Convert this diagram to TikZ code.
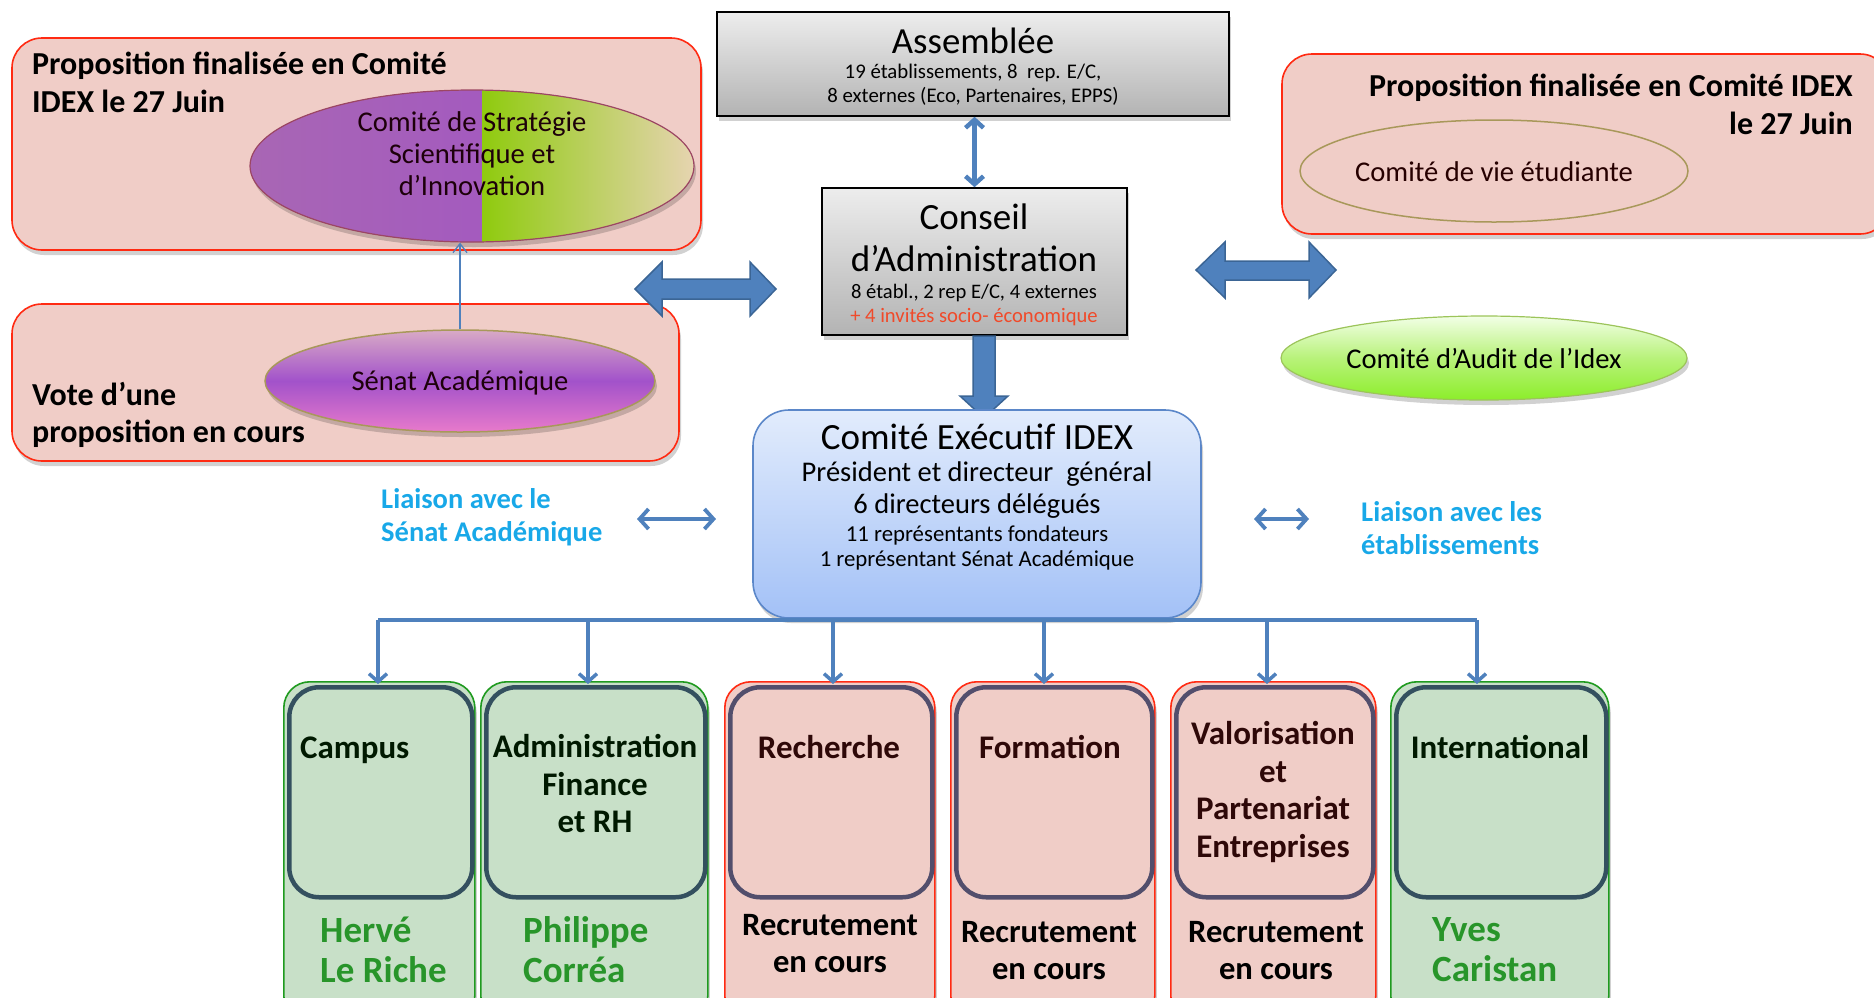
\documentclass[tikz,border=0pt]{standalone}
\usepackage{fontspec}
\setmainfont{Carlito}
\usetikzlibrary{shapes.geometric,arrows.meta,shadows,calc}
\definecolor{pinkbg}{HTML}{F0CDC7}
\definecolor{redline}{HTML}{FF2A12}
\definecolor{greenbg}{HTML}{C8E0C8}
\definecolor{greenline}{HTML}{1F9A1F}
\definecolor{navyline}{HTML}{34505F}
\definecolor{purpline}{HTML}{524E6C}
\definecolor{arrowblue}{HTML}{4F81BD}
\definecolor{arrowedge}{HTML}{3B6595}
\definecolor{namegreen}{HTML}{28952A}
\definecolor{liaisoncol}{HTML}{18A8E8}
\definecolor{socred}{HTML}{F04A2A}
\definecolor{titlebrown}{HTML}{2E0808}
\definecolor{grayTop}{HTML}{EDEDED}
\definecolor{grayBot}{HTML}{B3B3B3}
\definecolor{olive}{HTML}{A8985A}
\definecolor{cssiA}{HTML}{A866B4}
\definecolor{cssiB}{HTML}{A050C8}
\definecolor{cssiC}{HTML}{8FCB0E}
\definecolor{cssiD}{HTML}{E6D4B0}
\definecolor{senTop}{HTML}{D8AAC6}
\definecolor{senMid}{HTML}{A252CA}
\definecolor{senBot}{HTML}{E87ACB}
\definecolor{audTop}{HTML}{F2FFE6}
\definecolor{audMid}{HTML}{B8F27A}
\definecolor{audBot}{HTML}{8CEE2A}
\definecolor{audLine}{HTML}{9CC45A}
\definecolor{cexTop}{HTML}{E2ECFC}
\definecolor{cexBot}{HTML}{A3C1F7}
\definecolor{cexLine}{HTML}{5B87C9}
\newcommand{\myfs}[2]{\fontsize{#1}{#2}\selectfont}
\tikzset{
  softshadow/.style={drop shadow={shadow xshift=2pt,shadow yshift=-5pt,fill=black,opacity=0.18}},
  propbox/.style={draw=redline, line width=1.6, fill=pinkbg, rounded corners=30, softshadow},
  graybox/.style={draw=black, line width=1.6, top color=grayTop, bottom color=grayBot, softshadow},
  boldlabel/.style={font=\myfs{32}{38}\bfseries, inner sep=0},
  elltext/.style={font=\myfs{28.6}{32}, align=center, inner sep=0},
  ellbase/.style={ellipse, inner sep=0},
  blockarrow/.style={fill=arrowblue, draw=arrowedge, line width=1.5},
  thinconn/.style={draw=arrowblue, line width=1.3, -{Straight Barb[length=9,width=14]}},
  medconn/.style={draw=arrowblue, line width=4.5, {Straight Barb[length=8,width=18]}-{Straight Barb[length=8,width=18]}},
  liaisonconn/.style={draw=arrowblue, line width=3.8, {Straight Barb[length=9,width=20]}-{Straight Barb[length=9,width=20]}},
  treeline/.style={draw=arrowblue, line width=3.5},
  treearrow/.style={draw=arrowblue, line width=3.5, -{Straight Barb[length=8,width=18]}},
  gouter/.style={draw=greenline, line width=1.6, fill=greenbg, rounded corners=26, softshadow, anchor=north west, inner sep=0},
  pouter/.style={draw=redline, line width=1.6, fill=pinkbg, rounded corners=26, softshadow, anchor=north west, inner sep=0},
  ginner/.style={draw=navyline, line width=4.5, rounded corners=30, anchor=north west, inner sep=0},
  pinner/.style={draw=purpline, line width=4.5, rounded corners=30, anchor=north west, inner sep=0},
  gtitle/.style={font=\myfs{33}{37.5}\bfseries, text=black!90!green, align=center, inner sep=0},
  ptitle/.style={font=\myfs{33}{37.5}\bfseries, text=titlebrown, align=center, inner sep=0},
  namestyle/.style={font=\myfs{37}{40}\bfseries, text=namegreen, align=left, inner sep=0, anchor=west},
  recrut/.style={font=\myfs{32.6}{37}\bfseries, text=black, align=center, inner sep=0},
  liaison/.style={font=\myfs{28.5}{33}\bfseries, text=liaisoncol, align=left, inner sep=0, anchor=west},
}
\begin{document}
\begin{tikzpicture}[x=1pt,y=-1pt]
\useasboundingbox (0,0) rectangle (1874,997);

% ---------- left top group ----------
\node[propbox, minimum width=689, minimum height=212, inner sep=0] (propL) at (356.5,144) {};
\node[boldlabel, anchor=west, align=left] (propLtext) at (32,82) {Proposition finalisée en Comité\\IDEX le 27 Juin};
\node[ellbase, minimum width=444, minimum height=152, draw=purple!45!gray, line width=1.2, softshadow,
  path picture={
    \fill[left color=cssiA, right color=cssiB] (path picture bounding box.south west) rectangle ($(path picture bounding box.north)+(10,0)$);
    \fill[left color=cssiC, right color=cssiD] ($(path picture bounding box.south)+(10,0)$) rectangle (path picture bounding box.north east);
  }] (cssi) at (472,166) {};
\node[elltext, text=black!85!purple] (cssiText) at (472,154) {Comité de Stratégie\\Scientifique et\\d’Innovation};

\node[propbox, minimum width=667, minimum height=157, inner sep=0] (senBox) at (345.5,382.5) {};
\node[boldlabel, anchor=west, align=left, font=\myfs{32}{37}\bfseries] (senBoxText) at (32,415) {Vote d’une\\proposition en cours};
\node[ellbase, minimum width=390, minimum height=102, draw=olive, line width=1.5, top color=senTop, bottom color=senBot, middle color=senMid, softshadow] (senat) at (460,381) {};
\node[elltext, text=black!85!purple] (senatText) at (460,383) {Sénat Académique};
\draw[thinconn] (senat.north) -- (senat.north |- cssi.south);

% ---------- centre column ----------
\node[graybox, minimum width=512, minimum height=104, inner sep=0] (assemblee) at (973,64) {};
\node[font=\myfs{36.8}{40}, inner sep=0] (assTitle) at (973,41) {Assemblée};
\node[font=\myfs{20.8}{24}, align=center, inner sep=0] (assSub) at (973,85) {19 établissements, 8~ rep. E/C,\\8 externes (Eco, Partenaires, EPPS)};

\node[graybox, minimum width=305, minimum height=147, inner sep=0] (conseil) at (974.5,261.5) {};
\node[font=\myfs{37}{42}, align=center, inner sep=0] (conTitle) at (974,238) {Conseil\\d’Administration};
\node[font=\myfs{20.6}{24}, align=center, inner sep=0] (conSub) at (974,305) {8 établ., 2 rep E/C, 4 externes\\\textcolor{socred}{+ 4 invités socio- économique}};

\draw[medconn] (assemblee.south -| conseil.north) -- (conseil.north);

% block arrows
\draw[blockarrow] (635,289) -- (662,262) -- (662,279) -- (750,279) -- (750,262) -- (776,289) -- (750,316) -- (750,299) -- (662,299) -- (662,316) -- cycle;
\draw[blockarrow] (1196,270) -- (1225,242) -- (1225,261) -- (1309,261) -- (1309,242) -- (1336,270) -- (1309,298) -- (1309,280) -- (1225,280) -- (1225,298) -- cycle;
\draw[blockarrow] (973,336) -- (995,336) -- (995,396) -- (1008,396) -- (984,418) -- (960,396) -- (973,396) -- cycle;

% ---------- right group ----------
\node[propbox, minimum width=608, minimum height=180, inner sep=0] (propR) at (1586,144) {};
\node[boldlabel, anchor=east, align=right] (propRtext) at (1853,104) {Proposition finalisée en Comité IDEX\\le 27 Juin};
\node[ellbase, minimum width=388, minimum height=102, draw=olive, line width=1.5] (vie) at (1494,171) {};
\node[elltext, text=black!85!red] (vieText) at (1494,172) {Comité de vie étudiante};
\node[ellbase, minimum width=406, minimum height=84, draw=audLine, line width=1.2, top color=audTop, bottom color=audBot, middle color=audMid, softshadow] (audit) at (1484,358) {};
\node[elltext] (auditText) at (1484,359) {Comité d’Audit de l’Idex};

% ---------- executive committee ----------
\node[draw=cexLine, line width=1.6, rounded corners=36, top color=cexTop, bottom color=cexBot, softshadow, minimum width=448, minimum height=208, inner sep=0] (cex) at (977,514) {};
\node[font=\myfs{37}{40}, inner sep=0] (cexTitle) at (977,437) {Comité Exécutif IDEX};
\node[font=\myfs{28.5}{32}, align=center, inner sep=0] (cexMid) at (977,490) {Président et directeur~ général\\6 directeurs délégués};
\node[font=\myfs{22.8}{25}, align=center, inner sep=0] (cexLow) at (977,547.5) {11 représentants fondateurs\\1 représentant Sénat Académique};

\node[liaison] (liaisonL) at (381,517.5) {Liaison avec le\\Sénat Académique};
\node[liaison] (liaisonR) at (1361,528.5) {Liaison avec les\\établissements};
\coordinate (lA) at (637,519);
\coordinate (lB) at (716,519);
\coordinate (rA) at (1254,519);
\coordinate (rB) at (1309,519);
\draw[liaisonconn] (lA) -- (lB);
\draw[liaisonconn] (rA) -- (rB);

% ---------- bottom boxes ----------
\node[gouter, minimum width=191, minimum height=340] (o1) at (283,681) {};
\node[gouter, minimum width=227, minimum height=340] (o2) at (480,681) {};
\node[pouter, minimum width=210, minimum height=340] (o3) at (724,681) {};
\node[pouter, minimum width=204, minimum height=340] (o4) at (950,681) {};
\node[pouter, minimum width=205, minimum height=340] (o5) at (1170,681) {};
\node[gouter, minimum width=218, minimum height=340] (o6) at (1390,681) {};

\node[ginner, minimum width=183, minimum height=210] (i1) at (287,685) {};
\node[ginner, minimum width=219, minimum height=210] (i2) at (484,685) {};
\node[pinner, minimum width=202, minimum height=210] (i3) at (728,685) {};
\node[pinner, minimum width=196, minimum height=210] (i4) at (954,685) {};
\node[pinner, minimum width=197, minimum height=210] (i5) at (1174,685) {};
\node[ginner, minimum width=210, minimum height=210] (i6) at (1394,685) {};

\node[gtitle, anchor=west] (t1) at (300,750) {Campus};
\node[gtitle] (t2) at (595,784) {Administration\\Finance\\et RH};
\node[ptitle] (t3) at (829,747) {Recherche};
\node[ptitle] (t4) at (1050,747) {Formation};
\node[ptitle] (t5) at (1273,792) {Valorisation\\et\\Partenariat\\Entreprises};
\node[gtitle] (t6) at (1500,747) {International};

\node[namestyle] (n1) at (320,950) {Hervé\\Le Riche};
\node[namestyle] (n2) at (523,950) {Philippe\\Corréa};
\node[recrut] (r3) at (830,944) {Recrutement\\en cours};
\node[recrut] (r4) at (1049,951) {Recrutement\\en cours};
\node[recrut] (r5) at (1276,951) {Recrutement\\en cours};
\node[namestyle] (n6) at (1432,950) {Yves\\Caristan};

% ---------- tree connectors ----------
\coordinate (d1) at (378,684);
\coordinate (d2) at (588,684);
\coordinate (d3) at (833,684);
\coordinate (d4) at (1044,684);
\coordinate (d5) at (1267,684);
\coordinate (d6) at (1477,684);
\draw[treeline] ($(d1 |- cex.south)+(0,1)$) -- ($(d6 |- cex.south)+(0,1)$);
\foreach \d in {d1,d2,d3,d4,d5,d6}{
  \draw[treearrow] ($(\d |- cex.south)+(0,1)$) -- (\d);
}
\end{tikzpicture}
\end{document}
